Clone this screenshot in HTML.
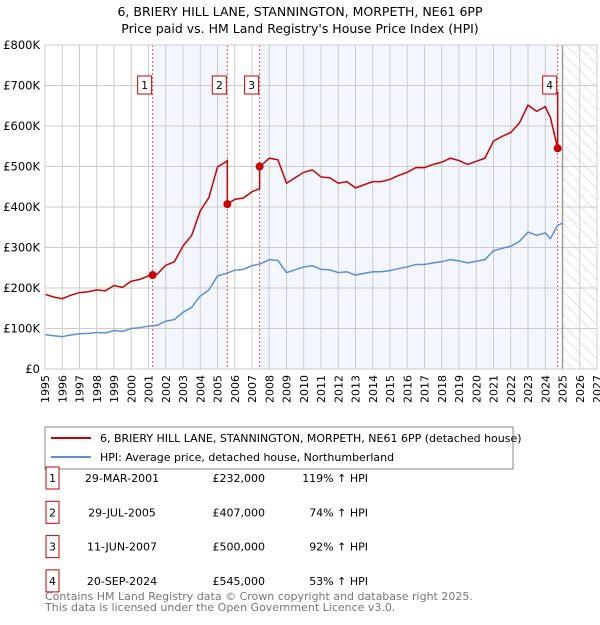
<!DOCTYPE html>
<html><head><meta charset="utf-8"><style>
body{margin:0;background:#fff;font-family:"Liberation Sans","DejaVu Sans",sans-serif;}
svg text{font-family:"DejaVu Sans","Liberation Sans",sans-serif;}
</style></head><body>
<svg id="c" width="600" height="620" xmlns="http://www.w3.org/2000/svg">
<defs><pattern id="hatch" width="8" height="8" patternUnits="userSpaceOnUse" patternTransform="rotate(-45)"><line x1="0" y1="0" x2="0" y2="8" stroke="#ccc" stroke-width="1"/></pattern></defs>
<text x="300" y="16" text-anchor="middle" font-size="12.5">6, BRIERY HILL LANE, STANNINGTON, MORPETH, NE61 6PP</text>
<text x="300" y="33" text-anchor="middle" font-size="12.5">Price paid vs. HM Land Registry's House Price Index (HPI)</text>
<g id="plot"></g>
<rect x="45" y="427" width="468" height="42" fill="#fff" stroke="#888"/>
<line x1="51" y1="438" x2="91" y2="438" stroke="#cc0000" stroke-width="2"/>
<text x="100" y="442" font-size="11">6, BRIERY HILL LANE, STANNINGTON, MORPETH, NE61 6PP (detached house)</text>
<line x1="51" y1="457" x2="91" y2="457" stroke="#5b8fd6" stroke-width="2"/>
<text x="100" y="461" font-size="11">HPI: Average price, detached house, Northumberland</text>
<g id="tbl"></g>
<text x="45" y="600" font-size="11" fill="#777">Contains HM Land Registry data © Crown copyright and database right 2025.</text>
<text x="45" y="611" font-size="11" fill="#777">This data is licensed under the Open Government Licence v3.0.</text>
</svg>
<script>
const hpiYears=[1995,1995.5,1996,1996.5,1997,1997.5,1998,1998.5,1999,1999.5,2000,2000.5,2001,2001.5,2002,2002.5,2003,2003.5,2004,2004.5,2005,2005.5,2006,2006.5,2007,2007.5,2008,2008.5,2009,2009.5,2010,2010.5,2011,2011.5,2012,2012.5,2013,2013.5,2014,2014.5,2015,2015.5,2016,2016.5,2017,2017.5,2018,2018.5,2019,2019.5,2020,2020.5,2021,2021.5,2022,2022.5,2023,2023.5,2024,2024.3,2024.72,2025];
const hpiValues=[85,82,80,84,87,88,90,89,95,93,100,102,106,108,118,122,140,152,180,195,230,236,244,246,255,260,270,268,238,245,252,255,246,245,238,240,232,236,240,240,243,248,252,258,258,262,265,270,267,262,266,270,292,298,303,315,338,330,336,322,355,360];
const saleDates=[2001.24,2005.57,2007.44,2024.72];
const salePrices=[232,407,500,545];
const saleLabels=["29-MAR-2001","29-JUL-2005","11-JUN-2007","20-SEP-2024"];
const salePriceText=["£232,000","£407,000","£500,000","£545,000"];
const saleHpiText=["119% ↑ HPI","74% ↑ HPI","92% ↑ HPI","53% ↑ HPI"];
const yTicks=[0,100,200,300,400,500,600,700,800];
const yTickLabels=["£0","£100K","£200K","£300K","£400K","£500K","£600K","£700K","£800K"];
const NS="http://www.w3.org/2000/svg";
const L=45,R=597,T=45,B=369;
const xs=y=>L+(y-1995)*(R-L)/32, ys=v=>B-v*(B-T)/800;
const g=document.getElementById('plot');
function mk(t,a,p){const e=document.createElementNS(NS,t);for(const k in a)e.setAttribute(k,a[k]);(p||g).appendChild(e);return e;}
function hpiAt(d){for(let i=1;i<hpiYears.length;i++){if(d<=hpiYears[i]){const f=(d-hpiYears[i-1])/(hpiYears[i]-hpiYears[i-1]);return hpiValues[i-1]+f*(hpiValues[i]-hpiValues[i-1]);}}return hpiValues[hpiValues.length-1];}
let e=mk('rect',{x:xs(saleDates[0]),y:T,width:xs(saleDates[1])-xs(saleDates[0]),height:B-T,fill:'#eef3fc',opacity:0.7});

e=mk('rect',{x:xs(saleDates[2]),y:T,width:xs(saleDates[3])-xs(saleDates[2]),height:B-T,fill:'#eef3fc',opacity:0.7});

e=mk('rect',{x:xs(2025),y:T,width:R-xs(2025),height:B-T,fill:'url(#hatch)'});

for(let y=1995;y<=2027;y++){e=mk('line',{x1:xs(y),x2:xs(y),y1:T,y2:B,stroke:'#ccc'});

const t=mk('text',{x:0,y:0,'font-size':11,'text-anchor':'end',transform:`translate(${xs(y)+4},${B+6}) rotate(-90)`});t.textContent=y;
}
yTicks.forEach((v,i)=>{e=mk('line',{x1:L,x2:R,y1:ys(v),y2:ys(v),stroke:'#ccc'});

const t=mk('text',{x:40,y:ys(v)+4,'font-size':11.5,'text-anchor':'end'});t.textContent=yTickLabels[i];
});
e=mk('line',{x1:xs(2025),x2:xs(2025),y1:T,y2:B,stroke:'#999','stroke-width':1.5});

saleDates.forEach((d,i)=>{e=mk('line',{x1:xs(d),x2:xs(d),y1:T,y2:B,stroke:'#e55','stroke-dasharray':'2,2','stroke-width':1});

const bx=xs(d)-15;e=mk('rect',{x:bx,y:76,width:14,height:18,fill:'#fff',stroke:'#c00'});

const t=mk('text',{x:bx+7,y:89,'font-size':11,'text-anchor':'middle'});t.textContent=i+1;
});
let pts=hpiYears.map((y,i)=>xs(y)+','+ys(hpiValues[i])).join(' ');
e=mk('polyline',{points:pts,fill:'none',stroke:'#5b8fd6','stroke-width':1.5});

const ratios=saleDates.map((d,i)=>salePrices[i]/hpiAt(d));
let rp=[];
hpiYears.forEach((y,i)=>{if(y>saleDates[3])return;let k=0;for(let j=0;j<saleDates.length;j++)if(y>=saleDates[j])k=j;
rp.push([y,hpiValues[i]*ratios[k]]);});
let red=[];let si=1;
rp.forEach(p=>{while(si<saleDates.length&&p[0]>saleDates[si]){red.push([saleDates[si],hpiAt(saleDates[si])*ratios[si-1]]);red.push([saleDates[si],salePrices[si]]);si++;}red.push(p);});
while(si<saleDates.length){red.push([saleDates[si],hpiAt(saleDates[si])*ratios[si-1]]);red.push([saleDates[si],salePrices[si]]);si++;}
e=mk('polyline',{points:red.map(p=>xs(p[0])+','+ys(p[1])).join(' '),fill:'none',stroke:'#cc0000','stroke-width':1.5});

saleDates.forEach((d,i)=>{e=mk('circle',{cx:xs(d),cy:ys(salePrices[i]),r:4,fill:'#cc0000'});
});
e=mk('rect',{x:L,y:T,width:R-L,height:B-T,fill:'none',stroke:'#ccc'});

const tb=document.getElementById('tbl');
saleDates.forEach((d,i)=>{const cy=480+i*34.3;
let r=mk('rect',{x:46,y:cy-13,width:13,height:22,fill:'#fff',stroke:'#c00'},tb);

const cols=[[52.5,'middle',String(i+1)],[122,'middle',saleLabels[i]],[265,'end',salePriceText[i]],[368,'end',saleHpiText[i]]];
cols.forEach(c=>{const t=mk('text',{x:c[0],y:cy+2,'font-size':11,'text-anchor':c[1]},tb);t.textContent=c[2];
});});
</script>
</body></html>
